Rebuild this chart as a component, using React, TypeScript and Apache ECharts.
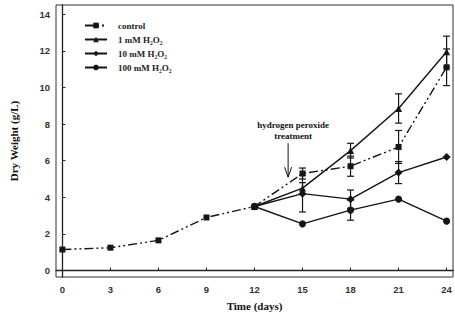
import React, { useEffect, useRef } from "react";
import * as echarts from "echarts";

const days = [0, 3, 6, 9, 12, 15, 18, 21, 24];
const treatDays = [12, 15, 18, 21, 24];
const xTicks = [0, 3, 6, 9, 12, 15, 18, 21, 24];
const yTicks = [0, 2, 4, 6, 8, 10, 12, 14];

const control = [1.15, 1.25, 1.65, 2.9, 3.5, 5.3, 5.7, 6.75, 11.1];
const mM1 = [3.5, 4.5, 6.55, 8.85, 11.95];
const mM10 = [3.5, 4.2, 3.9, 5.35, 6.2];
const mM100 = [3.5, 2.55, 3.3, 3.9, 2.7];

// error bars: [day, value, +/- error]
const controlErr = [[15, 5.3, 0.3], [18, 5.7, 0.55], [21, 6.75, 0.9], [24, 11.1, 1.0]];
const mM1Err = [[15, 4.5, 0.3], [18, 6.55, 0.4], [21, 8.85, 0.8], [24, 11.95, 0.85]];
const mM10Err = [[15, 4.2, 1.0], [18, 3.9, 0.5], [21, 5.35, 0.6]];
const mM100Err = [[18, 3.3, 0.55]];

const legendNames = ["control", "1 mM H\u2082O\u2082", "10 mM H\u2082O\u2082", "100 mM H\u2082O\u2082"];
const annotation = ["hydrogen peroxide", "treatment"];
const arrowDay = 14.1;
const arrowFrom = 6.95;
const arrowTo = 5.1;

const ink = "#151515";
const serif = "Liberation Serif";

function errSeries(data: number[][]) {
  return {
    type: "custom",
    silent: true,
    z: 1,
    data: data.map((d) => [d[0], d[1] - d[2], d[1] + d[2]]),
    renderItem: (params: any, api: any) => {
      const lo = api.coord([api.value(0), api.value(1)]);
      const hi = api.coord([api.value(0), api.value(2)]);
      const w = 3.5;
      const st = { stroke: ink, lineWidth: 1.2 };
      return {
        type: "group",
        children: [
          { type: "line", shape: { x1: lo[0], y1: lo[1], x2: hi[0], y2: hi[1] }, style: st },
          { type: "line", shape: { x1: lo[0] - w, y1: lo[1], x2: lo[0] + w, y2: lo[1] }, style: st },
          { type: "line", shape: { x1: hi[0] - w, y1: hi[1], x2: hi[0] + w, y2: hi[1] }, style: st },
        ],
      };
    },
  };
}

export default function App() {
  const ref = useRef<HTMLDivElement>(null);
  useEffect(() => {
    const chart = echarts.init(ref.current!, undefined, { renderer: "svg" });
    const line = (name: string, xs: number[], ys: number[], symbol: string, size: number, dashed: boolean) => ({
      name,
      type: "line",
      data: xs.map((x, i) => [x, ys[i]]),
      symbol,
      symbolSize: size,
      z: 3,
      itemStyle: { color: ink },
      lineStyle: { color: ink, width: 1.4, type: dashed ? [9, 3, 2, 3, 2, 3] : "solid" },
    });
    chart.setOption({
      animation: false,
      backgroundColor: "#fff",
      grid: { left: 53, top: 5, right: 2, bottom: 46, show: true, borderColor: "#333", borderWidth: 1 },
      legend: {
        orient: "vertical",
        left: 79,
        top: 16,
        itemWidth: 22,
        itemHeight: 7,
        itemGap: 5,
        data: legendNames,
        textStyle: { fontFamily: serif, fontSize: 9, fontWeight: "bold", color: "#222", padding: [0, 0, 0, 6] },
      },
      xAxis: {
        type: "value",
        min: -0.4,
        max: 24.4,
        name: "Time (days)",
        nameLocation: "middle",
        nameGap: 23,
        nameTextStyle: { fontFamily: serif, fontSize: 11, fontWeight: "bold", color: "#111" },
        axisLine: { lineStyle: { color: "#222", width: 1.3 } },
        axisTick: { inside: true, length: 3, customValues: xTicks, lineStyle: { color: "#222" } },
        axisLabel: { customValues: xTicks, fontFamily: "Liberation Sans", fontSize: 9.5, fontWeight: "bold", color: "#333", margin: 7 },
        splitLine: { show: false },
      },
      yAxis: {
        type: "value",
        min: -0.35,
        max: 14.5,
        name: "Dry Weight (g/L)",
        nameLocation: "middle",
        nameGap: 37,
        nameTextStyle: { fontFamily: serif, fontSize: 11, fontWeight: "bold", color: "#111" },
        axisLine: { lineStyle: { color: "#222", width: 1.3 } },
        axisTick: { inside: true, length: 3, customValues: yTicks, lineStyle: { color: "#222" } },
        axisLabel: { customValues: yTicks, fontFamily: "Liberation Sans", fontSize: 9.5, fontWeight: "bold", color: "#333", margin: 6 },
        splitLine: { show: false },
      },
      series: [
        line(legendNames[0], days, control, "rect", 6, true),
        line(legendNames[1], treatDays, mM1, "triangle", 7, false),
        line(legendNames[2], treatDays, mM10, "diamond", 8, false),
        line(legendNames[3], treatDays, mM100, "circle", 7, false),
        errSeries(controlErr),
        errSeries(mM1Err),
        errSeries(mM10Err),
        errSeries(mM100Err),
      ],
    });
    const top = chart.convertToPixel({ gridIndex: 0 }, [arrowDay, arrowFrom]);
    const bot = chart.convertToPixel({ gridIndex: 0 }, [arrowDay, arrowTo]);
    const ts = { fontFamily: serif, fontSize: 9, fontWeight: "bold", fill: "#111", align: "center", verticalAlign: "middle" };
    chart.setOption({
      graphic: [
        { type: "text", x: top[0] + 5, y: top[1] - 18, style: { ...ts, text: annotation[0] } },
        { type: "text", x: top[0] + 5, y: top[1] - 7, style: { ...ts, text: annotation[1] } },
        { type: "line", shape: { x1: top[0], y1: top[1], x2: bot[0], y2: bot[1] }, style: { stroke: ink, lineWidth: 1 } },
        {
          type: "polyline",
          shape: { points: [[bot[0] - 3.5, bot[1] - 10], [bot[0], bot[1]], [bot[0] + 3.5, bot[1] - 10]] },
          style: { stroke: ink, lineWidth: 1, fill: "none" },
        },
      ],
    });
    return () => chart.dispose();
  }, []);
  return <div ref={ref} style={{ position: "fixed", left: 0, top: 0, width: 455, height: 323 }} />;
}
